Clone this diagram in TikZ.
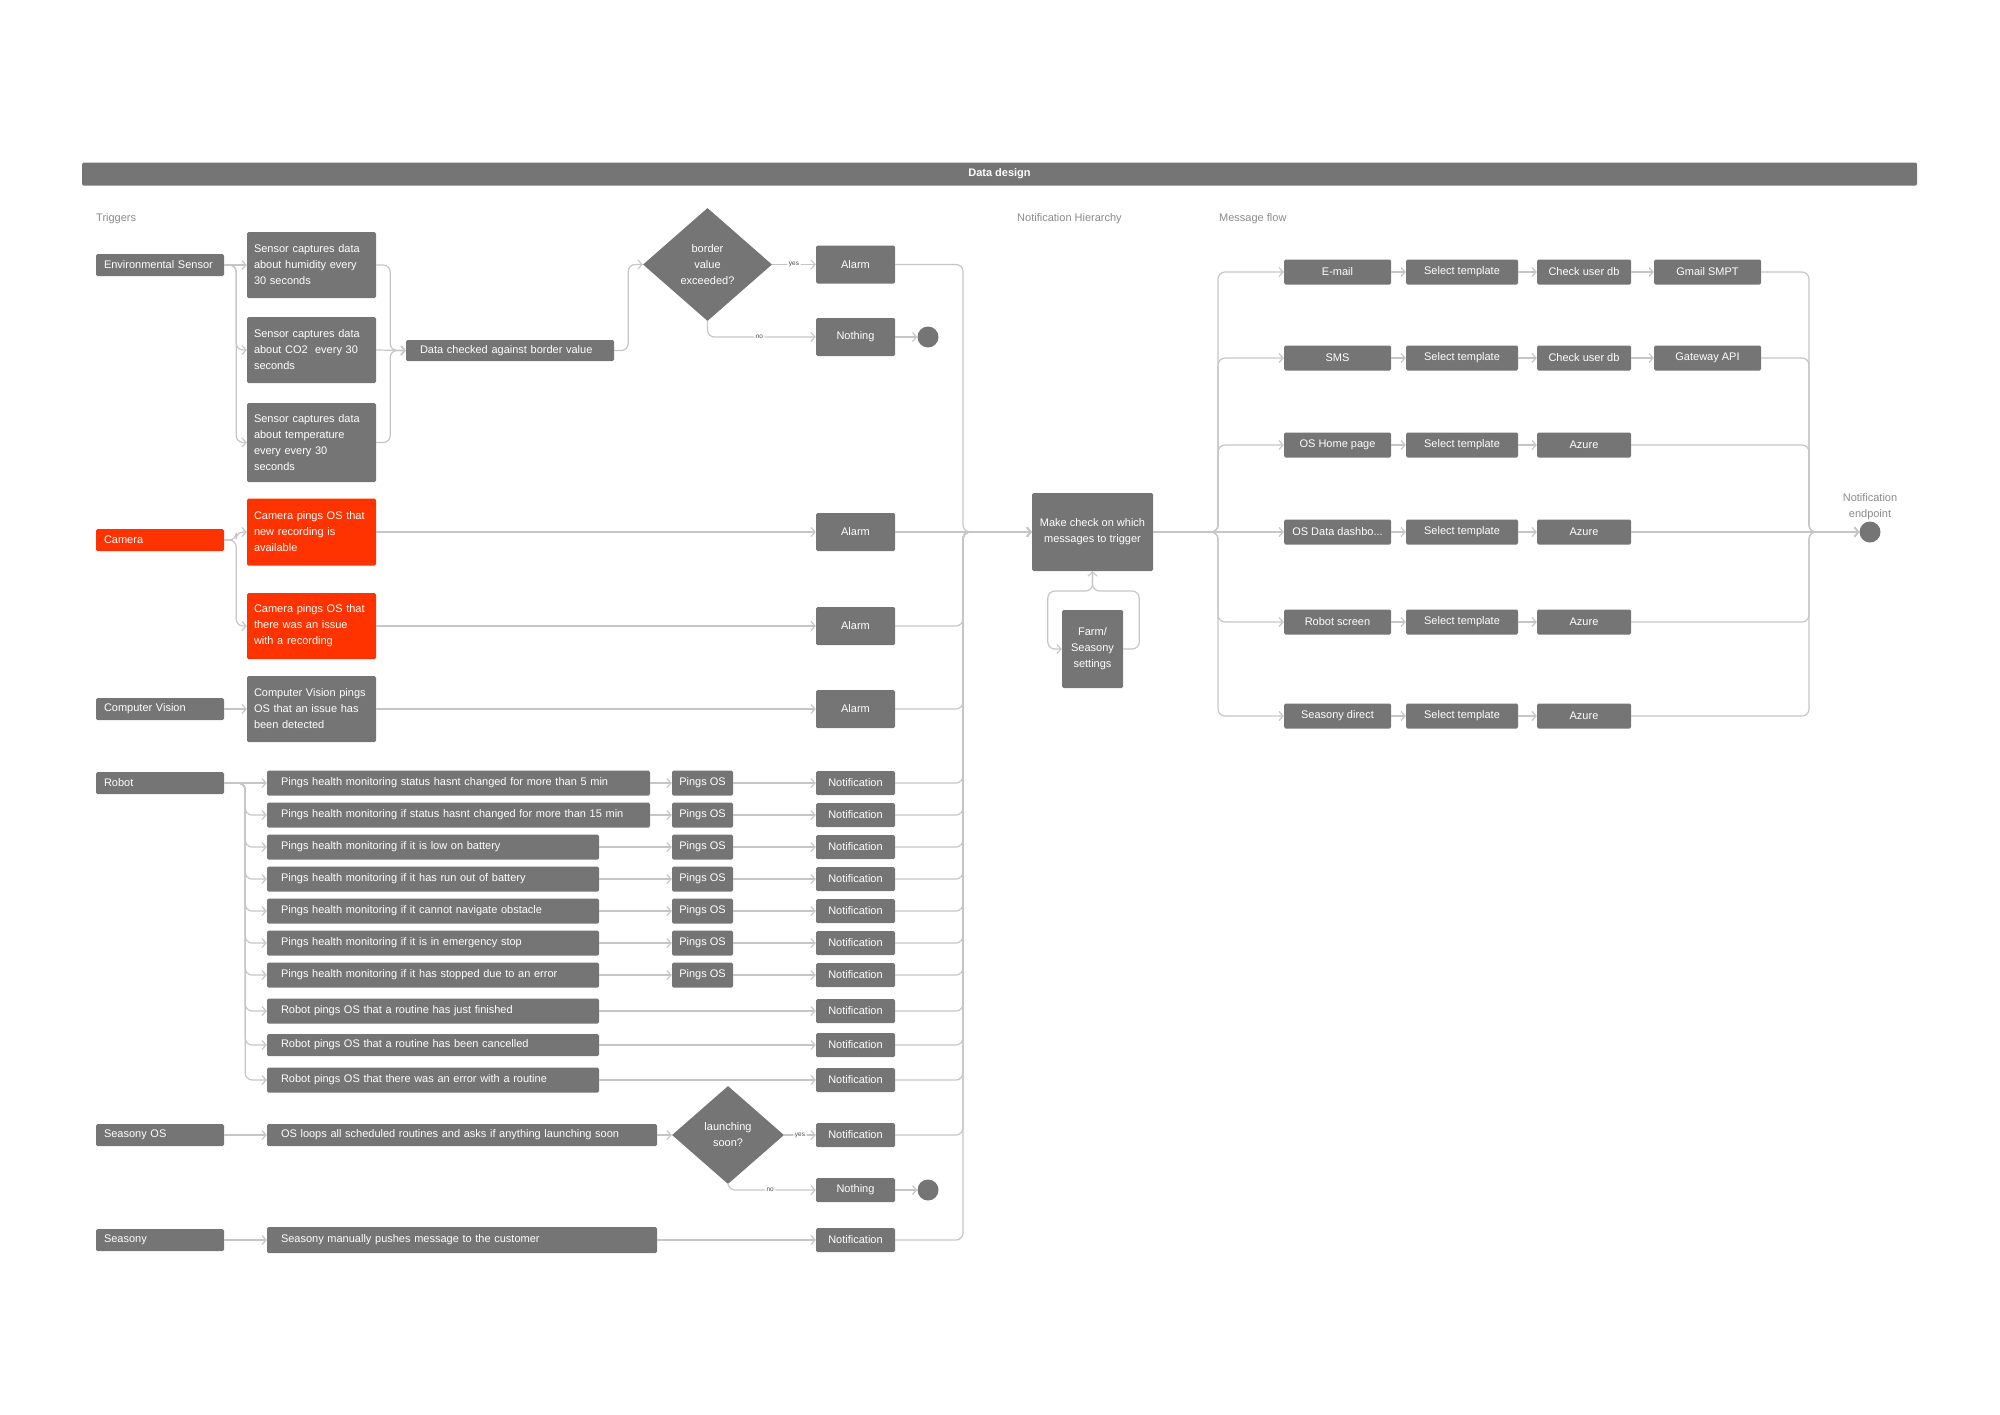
\documentclass[tikz,border=0pt]{standalone}
\usepackage{fontspec}
\setmainfont{Liberation Sans}
\usetikzlibrary{shapes.geometric,arrows.meta}
\definecolor{boxgray}{HTML}{757575}
\definecolor{alertred}{HTML}{FF3300}
\definecolor{wiregray}{HTML}{C6C6C6}
\definecolor{labelgray}{HTML}{8A8A8A}
\begin{document}
\begin{tikzpicture}[x=1pt, y=-1pt,
    box/.style={fill=boxgray, text=white, rounded corners=1.5pt, inner sep=0pt, font=\fontsize{11}{16}\selectfont},
    trig/.style={box, text width=112pt, inner xsep=8pt, minimum height=22pt, align=left},
    info/.style={box, text width=115pt, inner xsep=7pt, minimum height=#1, align=left},
    task/.style={box, text width=#1, inner xsep=14pt, minimum height=25pt, align=left},
    tag/.style={box, minimum width=#1, minimum height=25pt, align=center},
    hot/.style={fill=alertred},
    ask/.style={box, diamond, sharp corners, align=center},
    halt/.style={circle, fill=boxgray, minimum size=21pt, inner sep=0pt},
    head/.style={text=labelgray, inner sep=0pt, font=\fontsize{11}{16}\selectfont},
    cond/.style={fill=white, text=black!70, font=\fontsize{6.5}{8}\selectfont, inner sep=1.5pt},
    wire/.style={draw=wiregray, line width=1.2pt, rounded corners=7pt, -{Straight Barb[length=4pt,width=9pt]}}]
  \useasboundingbox (0,0) rectangle (2000,1414);
  \draw
    (999.5,174) node[box, minimum width=1835pt, minimum height=23pt, font=\bfseries\fontsize{11}{16}\selectfont] (title) {Data design}
    (96,219) node[head, anchor=west] (trighead) {Triggers}
    (1017,219) node[head, anchor=west] (hierhead) {Notification Hierarchy}
    (1219,219) node[head, anchor=west] (flowhead) {Message flow};
  \draw
    (160,265) node[trig] (env) {Environmental Sensor}
    (160,540) node[trig, hot] (cam) {Camera}
    (160,709) node[trig] (cv) {Computer Vision}
    (160,783) node[trig] (robot) {Robot}
    (160,1135) node[trig] (sos) {Seasony OS}
    (160,1240) node[trig] (sea) {Seasony};
  \draw
    (311.5,265) node[info=66pt] (hum) {Sensor captures data\\about humidity every\\30 seconds}
    (311.5,350) node[info=66pt] (co2) {Sensor captures data\\about CO2\ \ every 30\\seconds}
    (311.5,442.5) node[info=79pt] (temp) {Sensor captures data\\about temperature\\every every 30\\seconds}
    (311.5,532) node[info=67pt, hot] (cam1) {Camera pings OS that\\new recording is\\available}
    (311.5,626) node[info=66pt, hot] (cam2) {Camera pings OS that\\there was an issue\\with a recording}
    (311.5,709) node[info=66pt] (cvmsg) {Computer Vision pings\\OS that an issue has\\been detected}
    (510,350.5) node[task=180pt, minimum height=21pt] (data) {Data checked against border value}
    (707.5,264.5) node[ask, minimum width=129pt, minimum height=113pt] (dia1) {border\\value\\exceeded?}
    (855.5,264.5) node[tag=79pt, minimum height=38pt] (al1) {Alarm}
    (855.5,337) node[tag=79pt, minimum height=38pt] (no1) {Nothing}
    (928,337) node[halt] (end1) {}
    (855.5,532) node[tag=79pt, minimum height=38pt] (al2) {Alarm}
    (855.5,626) node[tag=79pt, minimum height=38pt] (al3) {Alarm}
    (855.5,709) node[tag=79pt, minimum height=38pt] (al4) {Alarm};
  \draw
    (458.5,783) node[task=355pt] (r1) {Pings health monitoring status hasnt changed for more than 5 min}
    (458.5,815) node[task=355pt] (r2) {Pings health monitoring if status hasnt changed for more than 15 min}
    (433,847) node[task=304pt] (r3) {Pings health monitoring if it is low on battery}
    (433,879) node[task=304pt] (r4) {Pings health monitoring if it has run out of battery}
    (433,911) node[task=304pt] (r5) {Pings health monitoring if it cannot navigate obstacle}
    (433,943) node[task=304pt] (r6) {Pings health monitoring if it is in emergency stop}
    (433,975) node[task=304pt] (r7) {Pings health monitoring if it has stopped due to an error}
    (433,1011) node[task=304pt] (r8) {Robot pings OS that a routine has just finished}
    (433,1045) node[task=304pt, minimum height=22pt] (r9) {Robot pings OS that a routine has been cancelled}
    (433,1080) node[task=304pt] (r10) {Robot pings OS that there was an error with a routine}
    (702.5,783) node[tag=61pt] (p1) {Pings OS}
    (702.5,815) node[tag=61pt] (p2) {Pings OS}
    (702.5,847) node[tag=61pt] (p3) {Pings OS}
    (702.5,879) node[tag=61pt] (p4) {Pings OS}
    (702.5,911) node[tag=61pt] (p5) {Pings OS}
    (702.5,943) node[tag=61pt] (p6) {Pings OS}
    (702.5,975) node[tag=61pt] (p7) {Pings OS}
    (855.5,783) node[tag=79pt, minimum height=24pt] (n1) {Notification}
    (855.5,815) node[tag=79pt, minimum height=24pt] (n2) {Notification}
    (855.5,847) node[tag=79pt, minimum height=24pt] (n3) {Notification}
    (855.5,879) node[tag=79pt, minimum height=24pt] (n4) {Notification}
    (855.5,911) node[tag=79pt, minimum height=24pt] (n5) {Notification}
    (855.5,943) node[tag=79pt, minimum height=24pt] (n6) {Notification}
    (855.5,975) node[tag=79pt, minimum height=24pt] (n7) {Notification}
    (855.5,1011) node[tag=79pt, minimum height=24pt] (n8) {Notification}
    (855.5,1045) node[tag=79pt, minimum height=24pt] (n9) {Notification}
    (855.5,1080) node[tag=79pt, minimum height=24pt] (n10) {Notification};
  \draw
    (462,1135) node[task=362pt, minimum height=22pt] (sosmsg) {OS loops all scheduled routines and asks if anything launching soon}
    (728,1135) node[ask, minimum width=112pt, minimum height=98pt] (dia2) {launching\\soon?}
    (855.5,1135) node[tag=79pt, minimum height=24pt] (n11) {Notification}
    (855.5,1190) node[tag=79pt, minimum height=24pt] (no2) {Nothing}
    (928,1190) node[halt] (end2) {}
    (462,1240) node[task=362pt, minimum height=26pt] (seamsg) {Seasony manually pushes message to the customer}
    (855.5,1240) node[tag=79pt, minimum height=24pt] (n12) {Notification};
  \draw
    (1092.5,532) node[box, minimum width=121pt, minimum height=78pt, align=center] (check) {Make check on which\\messages to trigger}
    (1092.5,649) node[box, minimum width=61pt, minimum height=78pt, align=center] (farm) {Farm/\\Seasony\\settings};
  \draw
    (1337.5,272) node[tag=107pt] (ch1) {E-mail}
    (1337.5,358) node[tag=107pt] (ch2) {SMS}
    (1337.5,445) node[tag=107pt] (ch3) {OS Home page}
    (1337.5,532) node[tag=107pt] (ch4) {OS Data dashbo...}
    (1337.5,622) node[tag=107pt] (ch5) {Robot screen}
    (1337.5,716) node[tag=107pt] (ch6) {Seasony direct}
    (1462,272) node[tag=112pt] (sel1) {Select template}
    (1462,358) node[tag=112pt] (sel2) {Select template}
    (1462,445) node[tag=112pt] (sel3) {Select template}
    (1462,532) node[tag=112pt] (sel4) {Select template}
    (1462,622) node[tag=112pt] (sel5) {Select template}
    (1462,716) node[tag=112pt] (sel6) {Select template}
    (1584,272) node[tag=94pt] (db1) {Check user db}
    (1584,358) node[tag=94pt] (db2) {Check user db}
    (1584,445) node[tag=94pt] (az3) {Azure}
    (1584,532) node[tag=94pt] (az4) {Azure}
    (1584,622) node[tag=94pt] (az5) {Azure}
    (1584,716) node[tag=94pt] (az6) {Azure}
    (1707.5,272) node[tag=107pt] (gmail) {Gmail SMPT}
    (1707.5,358) node[tag=107pt] (gw) {Gateway API}
    (1870,532) node[halt] (endpt) {}
    (1870,506.5) node[head, align=center] (endlabel) {Notification\\endpoint};
  \coordinate (hub) at (963,532);
  \coordinate (loop) at (1092.5,591);
  \coordinate (fork) at (1218,532);
  \coordinate (merge) at (1809,532);
  \begin{scope}[wire]
    \draw (env.east) -- (hum.west);
    \draw (env.east) -- ++(12,0) |- (co2.west);
    \draw (env.east) -- ++(12,0) |- (temp.west);
    \draw (hum.east) -- ++(14,0) |- (data.west);
    \draw (co2.east) -- (data.west);
    \draw (temp.east) -- ++(14,0) |- (data.west);
    \draw (data.east) -- ++(14,0) |- (dia1.west);
    \draw (dia1.east) -- node[cond] (yes1) {yes} (al1.west);
    \draw (dia1.south) |- node[cond, pos=0.74] (nolab1) {no} (no1.west);
    \draw (no1.east) -- (end1);
    \draw (cam.east) -- ++(12,0) |- (cam1.west);
    \draw (cam.east) -- ++(12,0) |- (cam2.west);
    \draw (cam1.east) -- (al2.west);
    \draw (cam2.east) -- (al3.west);
    \draw (cv.east) -- (cvmsg.west);
    \draw (cvmsg.east) -- (al4.west);
    \draw (robot.east) -- (r1.west);
    \draw (robot.east) -- ++(21,0) |- (r2.west);
    \draw (robot.east) -- ++(21,0) |- (r3.west);
    \draw (robot.east) -- ++(21,0) |- (r4.west);
    \draw (robot.east) -- ++(21,0) |- (r5.west);
    \draw (robot.east) -- ++(21,0) |- (r6.west);
    \draw (robot.east) -- ++(21,0) |- (r7.west);
    \draw (robot.east) -- ++(21,0) |- (r8.west);
    \draw (robot.east) -- ++(21,0) |- (r9.west);
    \draw (robot.east) -- ++(21,0) |- (r10.west);
    \draw (r1.east) -- (p1.west);
    \draw (r2.east) -- (p2.west);
    \draw (r3.east) -- (p3.west);
    \draw (r4.east) -- (p4.west);
    \draw (r5.east) -- (p5.west);
    \draw (r6.east) -- (p6.west);
    \draw (r7.east) -- (p7.west);
    \draw (p1.east) -- (n1.west);
    \draw (p2.east) -- (n2.west);
    \draw (p3.east) -- (n3.west);
    \draw (p4.east) -- (n4.west);
    \draw (p5.east) -- (n5.west);
    \draw (p6.east) -- (n6.west);
    \draw (p7.east) -- (n7.west);
    \draw (r8.east) -- (n8.west);
    \draw (r9.east) -- (n9.west);
    \draw (r10.east) -- (n10.west);
    \draw (sos.east) -- (sosmsg.west);
    \draw (sosmsg.east) -- (dia2.west);
    \draw (dia2.east) -- node[cond] (yes2) {yes} (n11.west);
    \draw (dia2.south) |- node[cond, pos=0.74] (nolab2) {no} (no2.west);
    \draw (no2.east) -- (end2);
    \draw (sea.east) -- (seamsg.west);
    \draw (seamsg.east) -- (n12.west);
    \draw (al1.east) -| (hub) -- (check.west);
    \draw (al2.east) -- (check.west);
    \draw (al3.east) -| (hub) -- (check.west);
    \draw (al4.east) -| (hub) -- (check.west);
    \draw (n1.east) -| (hub) -- (check.west);
    \draw (n2.east) -| (hub) -- (check.west);
    \draw (n3.east) -| (hub) -- (check.west);
    \draw (n4.east) -| (hub) -- (check.west);
    \draw (n5.east) -| (hub) -- (check.west);
    \draw (n6.east) -| (hub) -- (check.west);
    \draw (n7.east) -| (hub) -- (check.west);
    \draw (n8.east) -| (hub) -- (check.west);
    \draw (n9.east) -| (hub) -- (check.west);
    \draw (n10.east) -| (hub) -- (check.west);
    \draw (n11.east) -| (hub) -- (check.west);
    \draw (n12.east) -| (hub) -- (check.west);
    \draw (farm.east) -- ++(16,0) |- (loop) -- (check.south);
    \draw (check.south) -- (loop) -| ([xshift=-14pt]farm.west) -- (farm.west);
    \draw (check.east) -- (fork) |- (ch1.west);
    \draw (check.east) -- (fork) |- (ch2.west);
    \draw (check.east) -- (fork) |- (ch3.west);
    \draw (check.east) -- (ch4.west);
    \draw (check.east) -- (fork) |- (ch5.west);
    \draw (check.east) -- (fork) |- (ch6.west);
    \draw (ch1.east) -- (sel1.west);
    \draw (ch2.east) -- (sel2.west);
    \draw (ch3.east) -- (sel3.west);
    \draw (ch4.east) -- (sel4.west);
    \draw (ch5.east) -- (sel5.west);
    \draw (ch6.east) -- (sel6.west);
    \draw (sel1.east) -- (db1.west);
    \draw (sel2.east) -- (db2.west);
    \draw (sel3.east) -- (az3.west);
    \draw (sel4.east) -- (az4.west);
    \draw (sel5.east) -- (az5.west);
    \draw (sel6.east) -- (az6.west);
    \draw (db1.east) -- (gmail.west);
    \draw (db2.east) -- (gw.west);
    \draw (gmail.east) -| (merge) -- (endpt);
    \draw (gw.east) -| (merge) -- (endpt);
    \draw (az3.east) -| (merge) -- (endpt);
    \draw (az4.east) -- (endpt);
    \draw (az5.east) -| (merge) -- (endpt);
    \draw (az6.east) -| (merge) -- (endpt);
  \end{scope}
\end{tikzpicture}
\end{document}
